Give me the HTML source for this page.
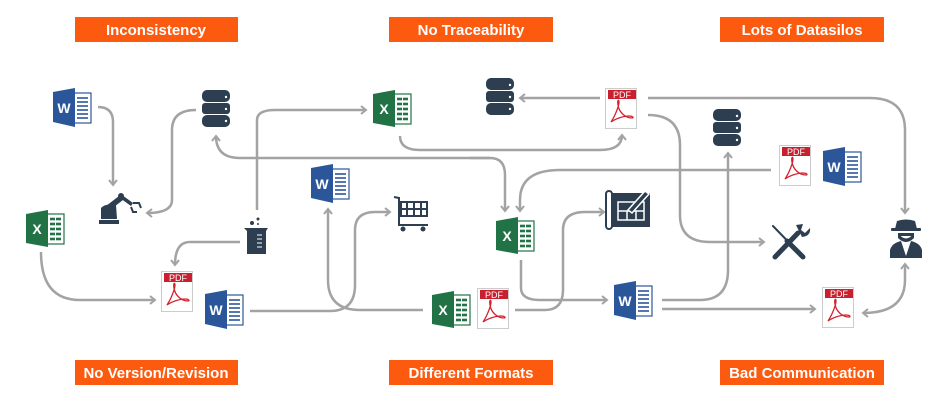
<!DOCTYPE html>
<html><head><meta charset="utf-8"><style>
html,body{margin:0;padding:0;background:#fff;}
svg{display:block;font-family:"Liberation Sans",sans-serif;}
.b{fill:#fc5a0f}
.bt{fill:#fff;font-weight:bold;font-size:15px;text-anchor:middle}
.c{fill:none;stroke:#a3a3a3;stroke-width:2.5}
.d{fill:#2c3e50}
</style></head><body>
<svg width="950" height="400" viewBox="0 0 950 400" xmlns="http://www.w3.org/2000/svg">
<defs>
<marker id="a" markerWidth="10" markerHeight="10" refX="6" refY="5" orient="auto" markerUnits="userSpaceOnUse">
<path d="M1,1 L6,5 L1,9" fill="none" stroke="#a3a3a3" stroke-width="2"/></marker>
<marker id="s" markerWidth="10" markerHeight="10" refX="4" refY="5" orient="auto" markerUnits="userSpaceOnUse">
<path d="M9,1 L4,5 L9,9" fill="none" stroke="#a3a3a3" stroke-width="2"/></marker>
</defs>

<!-- banners -->
<rect class="b" x="75" y="17" width="163" height="25"/><text class="bt" x="156" y="35">Inconsistency</text>
<rect class="b" x="389" y="17" width="164" height="25"/><text class="bt" x="471" y="35">No Traceability</text>
<rect class="b" x="720" y="17" width="164" height="25"/><text class="bt" x="802" y="35">Lots of Datasilos</text>
<rect class="b" x="75" y="360" width="163" height="25"/><text class="bt" x="156" y="378">No Version/Revision</text>
<rect class="b" x="389" y="360" width="164" height="25"/><text class="bt" x="471" y="378">Different Formats</text>
<rect class="b" x="720" y="360" width="164" height="25"/><text class="bt" x="802" y="378">Bad Communication</text>

<!-- connectors -->
<path class="c" marker-end="url(#a)" d="M98,107 Q113,107 113,122 L113,185"/>
<path class="c" marker-end="url(#a)" d="M196,110 Q172,110 172,130 L172,200 Q172,213 147,213"/>
<path class="c" marker-end="url(#a)" d="M257,210 L257,120 Q257,110 275,110 L366,110"/>
<path class="c" marker-end="url(#a)" d="M490,158 L240,158 Q216,158 216,136"/>
<path class="c" marker-end="url(#a)" d="M470,158 L490,158 Q505,158 505,175 L505,211"/>
<path class="c" marker-end="url(#a)" d="M400,136 Q400,150 420,150 L600,150 Q622,150 622,135"/>
<path class="c" marker-end="url(#a)" d="M240,242 L190,242 Q175,242 175,265"/>
<path class="c" marker-end="url(#a)" d="M41,252 Q41,300 80,300 L155,300"/>
<path class="c" marker-end="url(#a)" d="M250,311 L330,311 Q355,311 355,285 L355,230 Q355,212 375,212 L390,212"/>
<path class="c" marker-end="url(#a)" d="M423,310 L360,310 Q328,310 328,280 L328,209"/>
<path class="c" marker-end="url(#a)" d="M600,98 L520,98"/>
<path class="c" marker-end="url(#a)" d="M648,98 L870,98 Q905,98 905,130 L905,213"/>
<path class="c" marker-end="url(#a)" d="M648,115 Q680,115 680,145 L680,215 Q680,242 710,242 L764,242"/>
<path class="c" marker-end="url(#a)" d="M771,170 L560,170 Q520,170 520,200 L520,211"/>
<path class="c" marker-end="url(#a)" d="M521,260 L521,288 Q521,300 540,300 L607,300"/>
<path class="c" marker-end="url(#a)" d="M515,310 L545,310 Q563,310 563,290 L563,230 Q563,212 585,212 L604,212"/>
<path class="c" marker-end="url(#a)" d="M662,300 L700,300 Q728,300 728,270 L728,153"/>
<path class="c" marker-end="url(#a)" d="M662,309 L815,309"/>
<path class="c" marker-start="url(#s)" marker-end="url(#a)" d="M863,313 Q905,313 905,280 L905,264"/>

<!-- Word icons -->
<g id="w1" transform="translate(53,88)"><rect x="20" y="5" width="18" height="30" fill="#fff" stroke="#2b579a" stroke-width="1.2"/><g stroke="#2b579a" stroke-width="1.6"><line x1="24" y1="10" x2="35" y2="10"/><line x1="24" y1="14" x2="35" y2="14"/><line x1="24" y1="18" x2="35" y2="18"/><line x1="24" y1="22" x2="35" y2="22"/><line x1="24" y1="26" x2="35" y2="26"/><line x1="24" y1="30" x2="35" y2="30"/></g><polygon points="0,4 22,0 22,39 0,34" fill="#2b579a"/><text x="11" y="25" fill="#fff" font-weight="bold" font-size="14" text-anchor="middle">W</text></g>
<g transform="translate(311,164)"><rect x="20" y="5" width="18" height="30" fill="#fff" stroke="#2b579a" stroke-width="1.2"/><g stroke="#2b579a" stroke-width="1.6"><line x1="24" y1="10" x2="35" y2="10"/><line x1="24" y1="14" x2="35" y2="14"/><line x1="24" y1="18" x2="35" y2="18"/><line x1="24" y1="22" x2="35" y2="22"/><line x1="24" y1="26" x2="35" y2="26"/><line x1="24" y1="30" x2="35" y2="30"/></g><polygon points="0,4 22,0 22,39 0,34" fill="#2b579a"/><text x="11" y="25" fill="#fff" font-weight="bold" font-size="14" text-anchor="middle">W</text></g>
<g transform="translate(205,290)"><rect x="20" y="5" width="18" height="30" fill="#fff" stroke="#2b579a" stroke-width="1.2"/><g stroke="#2b579a" stroke-width="1.6"><line x1="24" y1="10" x2="35" y2="10"/><line x1="24" y1="14" x2="35" y2="14"/><line x1="24" y1="18" x2="35" y2="18"/><line x1="24" y1="22" x2="35" y2="22"/><line x1="24" y1="26" x2="35" y2="26"/><line x1="24" y1="30" x2="35" y2="30"/></g><polygon points="0,4 22,0 22,39 0,34" fill="#2b579a"/><text x="11" y="25" fill="#fff" font-weight="bold" font-size="14" text-anchor="middle">W</text></g>
<g transform="translate(614,281)"><rect x="20" y="5" width="18" height="30" fill="#fff" stroke="#2b579a" stroke-width="1.2"/><g stroke="#2b579a" stroke-width="1.6"><line x1="24" y1="10" x2="35" y2="10"/><line x1="24" y1="14" x2="35" y2="14"/><line x1="24" y1="18" x2="35" y2="18"/><line x1="24" y1="22" x2="35" y2="22"/><line x1="24" y1="26" x2="35" y2="26"/><line x1="24" y1="30" x2="35" y2="30"/></g><polygon points="0,4 22,0 22,39 0,34" fill="#2b579a"/><text x="11" y="25" fill="#fff" font-weight="bold" font-size="14" text-anchor="middle">W</text></g>
<g transform="translate(823,147)"><rect x="20" y="5" width="18" height="30" fill="#fff" stroke="#2b579a" stroke-width="1.2"/><g stroke="#2b579a" stroke-width="1.6"><line x1="24" y1="10" x2="35" y2="10"/><line x1="24" y1="14" x2="35" y2="14"/><line x1="24" y1="18" x2="35" y2="18"/><line x1="24" y1="22" x2="35" y2="22"/><line x1="24" y1="26" x2="35" y2="26"/><line x1="24" y1="30" x2="35" y2="30"/></g><polygon points="0,4 22,0 22,39 0,34" fill="#2b579a"/><text x="11" y="25" fill="#fff" font-weight="bold" font-size="14" text-anchor="middle">W</text></g>

<!-- Excel icons -->
<g transform="translate(373,90)"><rect x="20" y="4" width="18" height="30" fill="#fff" stroke="#217346" stroke-width="1.2"/><g stroke="#217346" stroke-width="2.6"><line x1="24" y1="9" x2="35" y2="9"/><line x1="24" y1="14" x2="35" y2="14"/><line x1="24" y1="19" x2="35" y2="19"/><line x1="24" y1="24" x2="35" y2="24"/><line x1="24" y1="29" x2="35" y2="29"/></g><line x1="29.5" y1="6" x2="29.5" y2="32" stroke="#fff" stroke-width="1"/><polygon points="0,4 22,0 22,37 0,33" fill="#217346"/><text x="11" y="24" fill="#fff" font-weight="bold" font-size="14" text-anchor="middle">X</text></g>
<g transform="translate(26,210)"><rect x="20" y="4" width="18" height="30" fill="#fff" stroke="#217346" stroke-width="1.2"/><g stroke="#217346" stroke-width="2.6"><line x1="24" y1="9" x2="35" y2="9"/><line x1="24" y1="14" x2="35" y2="14"/><line x1="24" y1="19" x2="35" y2="19"/><line x1="24" y1="24" x2="35" y2="24"/><line x1="24" y1="29" x2="35" y2="29"/></g><line x1="29.5" y1="6" x2="29.5" y2="32" stroke="#fff" stroke-width="1"/><polygon points="0,4 22,0 22,37 0,33" fill="#217346"/><text x="11" y="24" fill="#fff" font-weight="bold" font-size="14" text-anchor="middle">X</text></g>
<g transform="translate(496,217)"><rect x="20" y="4" width="18" height="30" fill="#fff" stroke="#217346" stroke-width="1.2"/><g stroke="#217346" stroke-width="2.6"><line x1="24" y1="9" x2="35" y2="9"/><line x1="24" y1="14" x2="35" y2="14"/><line x1="24" y1="19" x2="35" y2="19"/><line x1="24" y1="24" x2="35" y2="24"/><line x1="24" y1="29" x2="35" y2="29"/></g><line x1="29.5" y1="6" x2="29.5" y2="32" stroke="#fff" stroke-width="1"/><polygon points="0,4 22,0 22,37 0,33" fill="#217346"/><text x="11" y="24" fill="#fff" font-weight="bold" font-size="14" text-anchor="middle">X</text></g>
<g transform="translate(432,291)"><rect x="20" y="4" width="18" height="30" fill="#fff" stroke="#217346" stroke-width="1.2"/><g stroke="#217346" stroke-width="2.6"><line x1="24" y1="9" x2="35" y2="9"/><line x1="24" y1="14" x2="35" y2="14"/><line x1="24" y1="19" x2="35" y2="19"/><line x1="24" y1="24" x2="35" y2="24"/><line x1="24" y1="29" x2="35" y2="29"/></g><line x1="29.5" y1="6" x2="29.5" y2="32" stroke="#fff" stroke-width="1"/><polygon points="0,4 22,0 22,37 0,33" fill="#217346"/><text x="11" y="24" fill="#fff" font-weight="bold" font-size="14" text-anchor="middle">X</text></g>

<!-- PDF icons -->
<g transform="translate(605,88)"><rect x="0.5" y="0.5" width="31" height="40" fill="#fff" stroke="#ccc"/><rect x="3" y="2" width="28" height="9" fill="#c8202f"/><text x="17" y="10" fill="#fff" font-size="9" text-anchor="middle">PDF</text><path d="M6,34 C10,28 14,18 14,14 C14,11 12,12 13,17 C14,24 20,30 27,30 C29,30 28,28 24,28 C18,28 10,31 6,34" fill="none" stroke="#d4232f" stroke-width="1.3"/></g>
<g transform="translate(161,271)"><rect x="0.5" y="0.5" width="31" height="40" fill="#fff" stroke="#ccc"/><rect x="3" y="2" width="28" height="9" fill="#c8202f"/><text x="17" y="10" fill="#fff" font-size="9" text-anchor="middle">PDF</text><path d="M6,34 C10,28 14,18 14,14 C14,11 12,12 13,17 C14,24 20,30 27,30 C29,30 28,28 24,28 C18,28 10,31 6,34" fill="none" stroke="#d4232f" stroke-width="1.3"/></g>
<g transform="translate(779,145)"><rect x="0.5" y="0.5" width="31" height="40" fill="#fff" stroke="#ccc"/><rect x="3" y="2" width="28" height="9" fill="#c8202f"/><text x="17" y="10" fill="#fff" font-size="9" text-anchor="middle">PDF</text><path d="M6,34 C10,28 14,18 14,14 C14,11 12,12 13,17 C14,24 20,30 27,30 C29,30 28,28 24,28 C18,28 10,31 6,34" fill="none" stroke="#d4232f" stroke-width="1.3"/></g>
<g transform="translate(477,288)"><rect x="0.5" y="0.5" width="31" height="40" fill="#fff" stroke="#ccc"/><rect x="3" y="2" width="28" height="9" fill="#c8202f"/><text x="17" y="10" fill="#fff" font-size="9" text-anchor="middle">PDF</text><path d="M6,34 C10,28 14,18 14,14 C14,11 12,12 13,17 C14,24 20,30 27,30 C29,30 28,28 24,28 C18,28 10,31 6,34" fill="none" stroke="#d4232f" stroke-width="1.3"/></g>
<g transform="translate(822,287)"><rect x="0.5" y="0.5" width="31" height="40" fill="#fff" stroke="#ccc"/><rect x="3" y="2" width="28" height="9" fill="#c8202f"/><text x="17" y="10" fill="#fff" font-size="9" text-anchor="middle">PDF</text><path d="M6,34 C10,28 14,18 14,14 C14,11 12,12 13,17 C14,24 20,30 27,30 C29,30 28,28 24,28 C18,28 10,31 6,34" fill="none" stroke="#d4232f" stroke-width="1.3"/></g>

<!-- Databases -->
<g transform="translate(202,90)" class="d"><rect x="0" y="0" width="28" height="12" rx="5"/><rect x="0" y="13" width="28" height="11" rx="3"/><rect x="0" y="25" width="28" height="12" rx="5"/><g fill="#fff"><circle cx="24" cy="7" r="1.2"/><circle cx="24" cy="19" r="1.2"/><circle cx="24" cy="31" r="1.2"/></g></g>
<g transform="translate(486,78)" class="d"><rect x="0" y="0" width="28" height="12" rx="5"/><rect x="0" y="13" width="28" height="11" rx="3"/><rect x="0" y="25" width="28" height="12" rx="5"/><g fill="#fff"><circle cx="24" cy="7" r="1.2"/><circle cx="24" cy="19" r="1.2"/><circle cx="24" cy="31" r="1.2"/></g></g>
<g transform="translate(713,109)" class="d"><rect x="0" y="0" width="28" height="12" rx="5"/><rect x="0" y="13" width="28" height="11" rx="3"/><rect x="0" y="25" width="28" height="12" rx="5"/><g fill="#fff"><circle cx="24" cy="7" r="1.2"/><circle cx="24" cy="19" r="1.2"/><circle cx="24" cy="31" r="1.2"/></g></g>

<!-- robot -->
<g class="d"><rect x="99" y="220" width="20" height="4"/><path d="M101,219 L101,208 Q106,203 116,205 L117,219Z"/><path d="M106,206 L119,196 L123,200 L110,210Z"/><circle cx="121" cy="196" r="3"/><path d="M122,195 L133,203 L131,206 L120,198Z"/></g>
<path d="M131,207 L133,212 L137,212 M133,203 L139,203 L141,208" fill="none" stroke="#2c3e50" stroke-width="2"/>

<!-- beaker -->
<g class="d"><path d="M244,228 L268,228 L266,231 L266,254 L247,254 L247,231Z"/><circle cx="252" cy="223" r="2"/><circle cx="258" cy="219" r="1.5"/><circle cx="258" cy="224" r="1"/></g>
<g stroke="#fff" stroke-width="1"><line x1="257" y1="235" x2="262" y2="235"/><line x1="257" y1="239" x2="262" y2="239"/><line x1="257" y1="243" x2="262" y2="243"/><line x1="257" y1="247" x2="262" y2="247"/></g>

<!-- cart -->
<g fill="none" stroke="#2c3e50" stroke-width="2"><path d="M394,197 L399,198 L399,225 L428,225"/><rect x="401" y="202" width="26" height="14"/><line x1="401" y1="209" x2="427" y2="209"/><line x1="407" y1="202" x2="407" y2="216"/><line x1="414" y1="202" x2="414" y2="216"/><line x1="421" y1="202" x2="421" y2="216"/></g>
<circle class="d" cx="403" cy="229" r="2.5"/><circle class="d" cx="423" cy="229" r="2.5"/>

<!-- blueprint -->
<g><rect x="609" y="193" width="41" height="34" fill="#2c3e50"/><rect x="606" y="191" width="6" height="38" rx="3" fill="#fff" stroke="#2c3e50" stroke-width="2"/>
<g fill="none" stroke="#fff" stroke-width="1.5"><rect x="618" y="202" width="26" height="18"/><line x1="618" y1="211" x2="644" y2="211"/><line x1="627" y1="211" x2="627" y2="220"/><line x1="636" y1="211" x2="636" y2="220"/><path d="M628,210 L645,191 L649,194 L632,213Z" fill="#2c3e50"/></g></g>

<!-- tools -->
<g stroke="#2c3e50" stroke-linecap="round"><line x1="773" y1="226" x2="803" y2="257" stroke-width="2"/><line x1="787" y1="241" x2="803" y2="257" stroke-width="5"/><line x1="775" y1="257" x2="798" y2="233" stroke-width="5"/></g>
<path d="M796,225 L803,224 L801,230 L805,233 L810,228 Q811,236 802,237 Z" fill="#2c3e50"/>

<!-- spy -->
<g class="d"><path d="M895,229 L897,221 Q906,218 915,221 L917,229 Z"/><rect x="891" y="228" width="30" height="3" rx="1"/><path d="M898,233 Q906,244 914,233 L914,238 Q906,246 898,238Z"/><path d="M890,258 L890,250 Q892,243 901,241 L906,256 L911,241 Q920,243 922,250 L922,258Z"/></g>
<rect x="898" y="233" width="16" height="3" fill="#2c3e50"/>
</svg>
</body></html>
